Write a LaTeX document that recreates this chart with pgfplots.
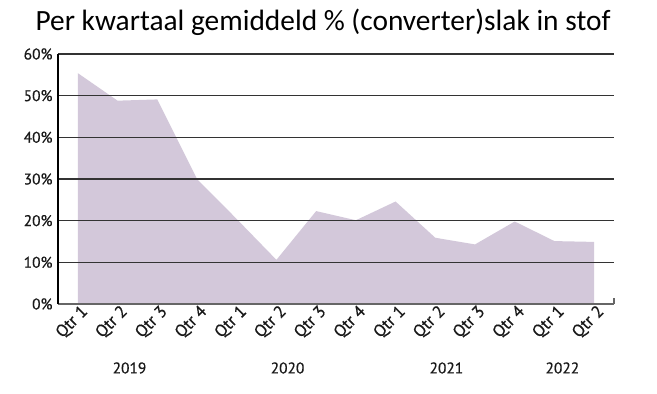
\documentclass[border=0pt]{standalone}
\usepackage{pgfplots}
\pgfplotsset{compat=1.18}
\usepackage{fontspec}
\setmainfont{Carlito}
\newfontfamily\tickfont{PT Sans}[FakeBold=0.6]
\newcommand\tf{\tickfont\fontsize{15.5}{17}\selectfont}
\newcommand\qf{\tickfont\fontsize{17}{19}\selectfont}
\definecolor{areafill}{HTML}{D3C8DA}
\definecolor{gridc}{HTML}{333333}
\begin{document}
\begin{tikzpicture}
\begin{axis}[
  name=ax,
  scale only axis,
  width=556bp, height=250bp,
  xmin=-0.5, xmax=13.5,
  ymin=0, ymax=60,
  axis on top,
  axis x line*=bottom,
  axis y line*=left,
  x axis line style={draw=gray!80!black, line width=1.4bp},
  y axis line style={draw=black, line width=1.4bp},
  ymajorgrids,
  grid style={draw=gridc, line width=1.3bp},
  ytick={0,10,20,30,40,50,60},
  yticklabel={\pgfmathprintnumber{\tick}\%},
  xtick={0,...,13},
  xticklabels={Qtr 1,Qtr 2,Qtr 3,Qtr 4,Qtr 1,Qtr 2,Qtr 3,Qtr 4,Qtr 1,Qtr 2,Qtr 3,Qtr 4,Qtr 1,Qtr 2},
  major tick length=0pt,
  xticklabel style={rotate=45, anchor=east, font=\qf, xshift=5bp, yshift=-9bp, text=black!90},
  yticklabel style={font=\tf, xshift=-2bp, text=black!90},
  /pgf/number format/assume math mode=true,
  extra x ticks={13.5},
  extra x tick labels={},
  extra x tick style={major tick length=6bp, tick align=inside, tick style={draw=gray!80!black, line width=1.4bp}, grid=none},
  clip=false,
]
\addplot[fill=areafill, draw=none] coordinates {
(0,55.4) (1,48.8) (2,49.1) (3,30.0) (4,20.4) (5,10.6) (6,22.3) (7,20.1)
(8,24.6) (9,15.9) (10,14.3) (11,19.8) (12,15.1) (13,14.9)
} \closedcycle;
\node[font=\tf, text=black!90] at ([yshift=-64bp]axis cs:1.3,0) {2019};
\node[font=\tf, text=black!90] at ([yshift=-64bp]axis cs:5.28,0) {2020};
\node[font=\tf, text=black!90] at ([yshift=-64bp]axis cs:9.28,0) {2021};
\node[font=\tf, text=black!90] at ([yshift=-64bp]axis cs:12.2,0) {2022};
\end{axis}
\node[font=\fontsize{29.5}{33}\selectfont] at ([xshift=265bp, yshift=32bp]ax.north west) {Per kwartaal gemiddeld \% (converter)slak in stof};
\pgfresetboundingbox
\path[use as bounding box] ([xshift=-58bp,yshift=-90bp]ax.south west) rectangle ([xshift=43bp,yshift=54bp]ax.north east);
\end{tikzpicture}
\end{document}
